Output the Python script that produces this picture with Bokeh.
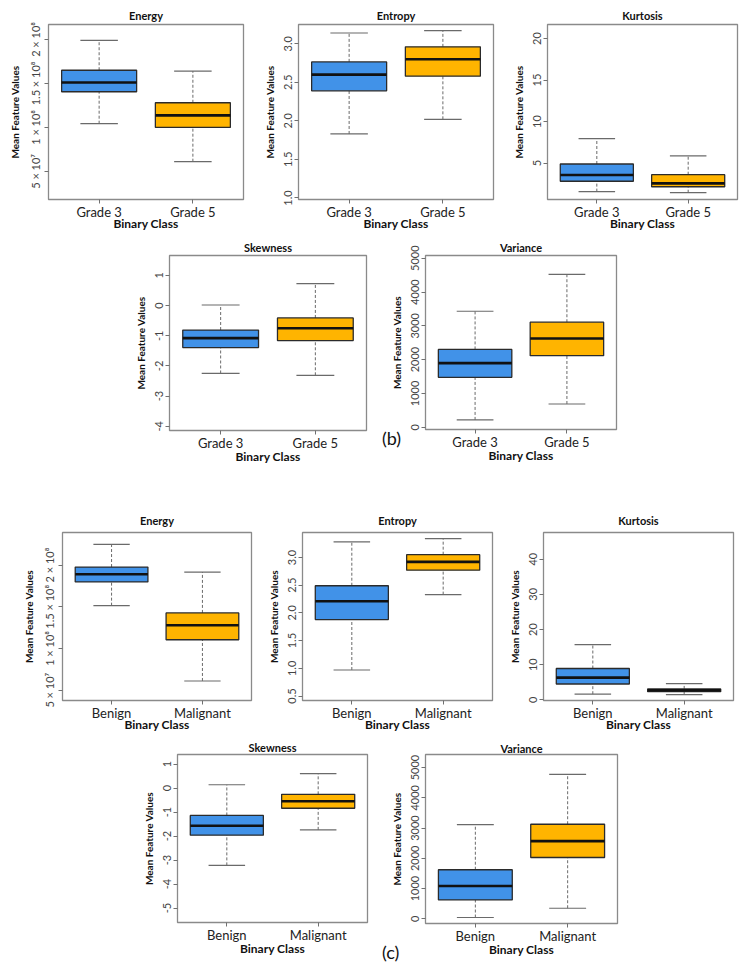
from bokeh.plotting import figure
from bokeh.models import Range1d, FixedTicker, Spacer, Div
from bokeh.layouts import row, column
from bokeh.embed import file_html
from bokeh.resources import INLINE

FONT = "Lato"

# ---------------- data ----------------
grade_classes = ["Grade 3", "Grade 5"]
tumor_classes = ["Benign", "Malignant"]

# five-number summary per class: [lower whisker, Q1, median, Q3, upper whisker]
energy_b = [[1.042e8, 1.405e8, 1.51e8, 1.65e8, 1.99e8],
            [6.1e7, 1.0e8, 1.137e8, 1.28e8, 1.64e8]]
entropy_b = [[1.83, 2.39, 2.60, 2.765, 3.14],
             [2.02, 2.58, 2.80, 2.96, 3.17]]
kurtosis_b = [[1.55, 2.80, 3.55, 4.88, 7.95],
              [1.42, 2.14, 2.54, 3.59, 5.85]]
skewness_b = [[-2.25, -1.39, -1.08, -0.81, 0.02],
              [-2.31, -1.16, -0.75, -0.41, 0.73]]
variance_b = [[215, 1475, 1897, 2301, 3431],
              [687, 2115, 2625, 3106, 4522]]

energy_c = [[1.513e8, 1.797e8, 1.889e8, 1.976e8, 2.248e8],
            [6.1e7, 1.104e8, 1.278e8, 1.426e8, 1.916e8]]
entropy_c = [[0.97, 1.88, 2.21, 2.49, 3.28],
             [2.33, 2.77, 2.92, 3.05, 3.34]]
kurtosis_c = [[1.6, 4.5, 6.3, 8.9, 15.7],
              [1.5, 2.3, 2.7, 3.1, 4.6]]
skewness_c = [[-3.22, -1.96, -1.57, -1.14, 0.14],
              [-1.74, -0.84, -0.55, -0.26, 0.60]]
variance_c = [[43, 625, 1086, 1622, 3112],
              [349, 2026, 2566, 3125, 4770]]

# y-axis limits
energy_b_lim = [1.8e7, 2.17e8]
entropy_b_lim = [0.98, 3.25]
kurtosis_b_lim = [0.6, 21.7]
skewness_b_lim = [-4.14, 1.66]
variance_b_lim = [-68, 5080]
energy_c_lim = [3.76e7, 2.39e8]
entropy_c_lim = [0.42, 3.45]
kurtosis_c_lim = [-0.2, 47.6]
skewness_c_lim = [-5.6, 1.4]
variance_c_lim = [-155, 5430]

# tick values and labels
energy_ticks = [5e7, 1e8, 1.5e8, 2e8]
energy_labels = ["5 × 10⁷", "1 × 10⁸", "1.5 × 10⁸", "2 × 10⁸"]
entropy_b_ticks = [1.0, 1.5, 2.0, 2.5, 3.0]
entropy_b_labels = ["1.0", "1.5", "2.0", "2.5", "3.0"]
entropy_c_ticks = [0.5, 1.0, 1.5, 2.0, 2.5, 3.0]
entropy_c_labels = ["0.5", "1.0", "1.5", "2.0", "2.5", "3.0"]
kurtosis_b_ticks = [5, 10, 15, 20]
kurtosis_b_labels = ["5", "10", "15", "20"]
kurtosis_c_ticks = [0, 10, 20, 30, 40]
kurtosis_c_labels = ["0", "10", "20", "30", "40"]
skewness_b_ticks = [-4, -3, -2, -1, 0, 1]
skewness_b_labels = ["-4", "-3", "-2", "-1", "0", "1"]
skewness_c_ticks = [-5, -4, -3, -2, -1, 0, 1]
skewness_c_labels = ["-5", "-4", "-3", "-2", "-1", "0", "1"]
variance_ticks = [0, 1000, 2000, 3000, 4000, 5000]
variance_labels = ["0", "1000", "2000", "3000", "4000", "5000"]

BOX_COLORS = ["#4192E8", "#FFB400"]
WHISK = "#6a6a6a"
TITLE_BOX = 18  # vertical room taken by a title


def panel(title, classes, stats, ylim, ticks, labels, frame, box, xlab_standoff=-5):
    fx0, fx1, fy0, fy1 = frame
    bx0, bx1, by0, by1 = box
    xs = list(range(1, len(classes) + 1))
    lo = [s[0] for s in stats]
    q1 = [s[1] for s in stats]
    med = [s[2] for s in stats]
    q3 = [s[3] for s in stats]
    hi = [s[4] for s in stats]

    p = figure(frame_width=fx1 - fx0, frame_height=fy1 - fy0,
               min_border_left=fx0 - bx0, min_border_right=bx1 - fx1,
               min_border_top=fy0 - by0, min_border_bottom=by1 - fy1,
               x_range=Range1d(0.46, len(classes) + 0.54),
               y_range=Range1d(ylim[0], ylim[1]),
               output_backend="svg", toolbar_location=None,
               background_fill_color="white", border_fill_color="white")
    p.xgrid.visible = False
    p.ygrid.visible = False
    p.outline_line_color = "#8a8a8a"
    p.outline_line_width = 1.3

    p.title.text = title
    p.title.align = "center"
    p.title.text_font = FONT
    p.title.text_font_size = "11px"
    p.title.text_font_style = "bold"
    p.title.text_color = "#111111"
    p.title.standoff = min(11, max(0, (fy0 - by0) - TITLE_BOX))

    # whiskers (dashed) and caps
    p.segment(x0=xs, y0=q3, x1=xs, y1=hi, line_color=WHISK, line_dash="3 2", line_width=1)
    p.segment(x0=xs, y0=lo, x1=xs, y1=q1, line_color=WHISK, line_dash="3 2", line_width=1)
    p.segment(x0=[x - 0.2 for x in xs], y0=hi, x1=[x + 0.2 for x in xs], y1=hi,
              line_color=WHISK, line_width=1.2)
    p.segment(x0=[x - 0.2 for x in xs], y0=lo, x1=[x + 0.2 for x in xs], y1=lo,
              line_color=WHISK, line_width=1.2)
    # boxes
    p.vbar(x=xs, width=0.8, bottom=q1, top=q3, fill_color=BOX_COLORS[:len(xs)],
           line_color="#2b2b2b", line_width=1.3)
    # medians
    p.segment(x0=[x - 0.4 for x in xs], y0=med, x1=[x + 0.4 for x in xs], y1=med,
              line_color="#111111", line_width=2.6)

    xa = p.xaxis[0]
    ya = p.yaxis[0]
    xa.ticker = FixedTicker(ticks=xs)
    xa.major_label_overrides = {x: c for x, c in zip(xs, classes)}
    ya.ticker = FixedTicker(ticks=ticks)
    ya.major_label_overrides = {t: l for t, l in zip(ticks, labels)}
    ya.major_label_orientation = "vertical"

    for ax in (xa, ya):
        ax.axis_line_color = None
        ax.major_tick_line_color = "#707070"
        ax.major_tick_out = 4
        ax.major_tick_in = 0
        ax.minor_tick_line_color = None
        ax.major_label_text_font = FONT
        ax.axis_label_text_font = FONT
        ax.axis_label_text_font_style = "bold"
        ax.axis_label_text_color = "#111111"

    xa.axis_label = "Binary Class"
    xa.axis_label_text_font_size = "12px"
    xa.major_label_text_font_size = "13px"
    xa.major_label_text_color = "#222222"
    xa.major_label_standoff = 0
    xa.axis_label_standoff = xlab_standoff

    ya.axis_label = "Mean Feature Values"
    ya.axis_label_text_font_size = "10px"
    ya.major_label_text_font_size = "11px"
    ya.major_label_text_color = "#444444"
    ya.major_label_standoff = 2
    ya.axis_label_standoff = 6
    return p


def tag(text, left, top_shift):
    return Div(text=text, width=30, height=22, margin=(top_shift, 0, 0, left),
               styles={"font-family": FONT, "font-size": "18px", "color": "#111111",
                       "line-height": "22px", "overflow": "visible"})


# frames (page px): x0, x1, y0, y1 ; boxes: figure extents (page px)
p1 = panel("Energy", grade_classes, energy_b, energy_b_lim, energy_ticks, energy_labels,
           (48, 243, 24, 199), (0, 250, 0, 230), -7)
p2 = panel("Entropy", grade_classes, entropy_b, entropy_b_lim, entropy_b_ticks, entropy_b_labels,
           (298, 493, 24, 199), (250, 500, 0, 230), -7)
p3 = panel("Kurtosis", grade_classes, kurtosis_b, kurtosis_b_lim, kurtosis_b_ticks, kurtosis_b_labels,
           (547, 737, 24, 199), (500, 745, 0, 230), -7)

p4 = panel("Skewness", grade_classes, skewness_b, skewness_b_lim, skewness_b_ticks, skewness_b_labels,
           (169, 366, 253, 428), (120, 375, 232, 468))
p5 = panel("Variance", grade_classes, variance_b, variance_b_lim, variance_ticks, variance_labels,
           (425, 616, 254, 428), (375, 625, 232, 468))

p6 = panel("Energy", tumor_classes, energy_c, energy_c_lim, energy_ticks, energy_labels,
           (62, 251, 533, 701), (0, 258, 504, 732), -7)
p7 = panel("Entropy", tumor_classes, entropy_c, entropy_c_lim, entropy_c_ticks, entropy_c_labels,
           (302, 492, 533, 701), (258, 497, 504, 732), -7)
p8 = panel("Kurtosis", tumor_classes, kurtosis_c, kurtosis_c_lim, kurtosis_c_ticks, kurtosis_c_labels,
           (543, 733, 533, 701), (497, 745, 504, 732), -7)

p9 = panel("Skewness", tumor_classes, skewness_c, skewness_c_lim, skewness_c_ticks, skewness_c_labels,
           (177, 367, 758, 926), (130, 375, 738, 968))
p10 = panel("Variance", tumor_classes, variance_c, variance_c_lim, variance_ticks, variance_labels,
            (425, 617, 755, 924), (375, 627, 738, 968))

layout = column(
    row(p1, p2, p3),
    row(Spacer(width=120, height=10), p4, p5),
    tag("(b)", 382, -42),
    Spacer(width=10, height=54),
    row(p6, p7, p8),
    row(Spacer(width=130, height=10), p9, p10),
    tag("(c)", 382, -23),
)

open("out.html", "w").write(file_html(layout, INLINE))
